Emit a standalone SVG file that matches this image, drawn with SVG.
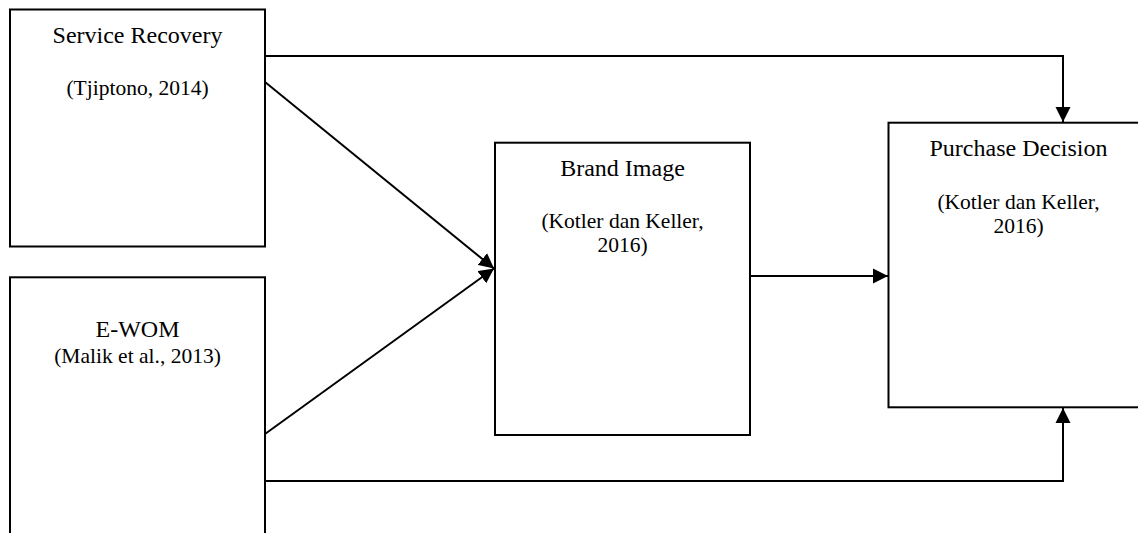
<svg xmlns="http://www.w3.org/2000/svg" width="1138" height="533" viewBox="0 0 1138 533">
<style>
.box{fill:#fff;stroke:#000;stroke-width:2}
text{font-family:'Times New Roman','Liberation Serif',Times,'DejaVu Serif',serif;fill:#000;text-anchor:middle}
.t{font-size:24px}
.c{font-size:21.5px}
.ln{fill:none;stroke:#000;stroke-width:2}
</style>
<defs>
<marker id="ah" markerUnits="userSpaceOnUse" markerWidth="16" markerHeight="16" viewBox="0 0 16 16" refX="15" refY="8" orient="auto">
<path d="M0,0.5 L15,8 L0,15.5 Z" fill="#000"/>
</marker>
</defs>
<rect width="1138" height="533" fill="#fff"/>
<g id="connectors">
<polyline class="ln" points="265,56 1063,56 1063,122" marker-end="url(#ah)"/>
<polyline class="ln" points="265,481 1063,481 1063,408" marker-end="url(#ah)"/>
<line class="ln" x1="265" y1="82" x2="494" y2="268.5" marker-end="url(#ah)"/>
<line class="ln" x1="265" y1="434" x2="494" y2="268.5" marker-end="url(#ah)"/>
<line class="ln" x1="750" y1="276" x2="888" y2="276" marker-end="url(#ah)"/>
</g>
<g id="service-recovery">
<rect class="box" x="10" y="9.5" width="255" height="237"/>
<text class="t" x="137.5" y="43.3" font-family="Liberation Serif, serif">Service Recovery</text>
<text class="c" x="137.5" y="95">(Tjiptono, 2014)</text>
</g>
<g id="e-wom">
<rect class="box" x="10" y="277.3" width="255" height="270"/>
<text class="t" x="137.5" y="336.7">E-WOM</text>
<text class="c" x="137.5" y="362.7">(Malik et al., 2013)</text>
</g>
<g id="brand-image">
<rect class="box" x="495" y="142.7" width="255" height="292.3"/>
<text class="t" x="622.5" y="176">Brand Image</text>
<text class="c" x="622.5" y="228.3">(Kotler dan Keller,</text>
<text class="c" x="622.5" y="251.7">2016)</text>
</g>
<g id="purchase-decision">
<rect class="box" x="888.5" y="122.7" width="261" height="284.6"/>
<text class="t" x="1018.5" y="156">Purchase Decision</text>
<text class="c" x="1018.5" y="208.5">(Kotler dan Keller,</text>
<text class="c" x="1018.5" y="233">2016)</text>
</g>
</svg>
